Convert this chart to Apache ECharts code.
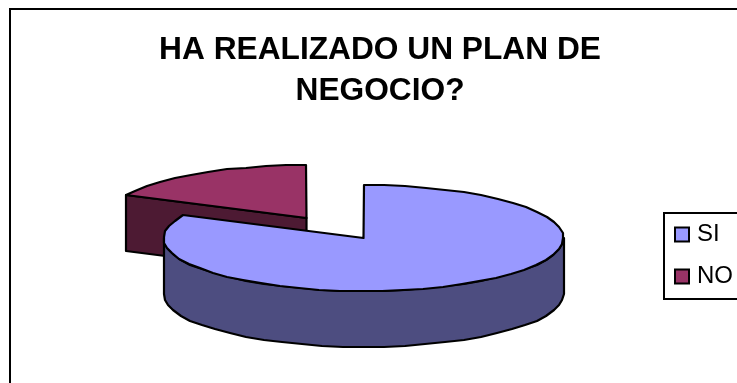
<!DOCTYPE html>
<html>
<head>
<meta charset="utf-8">
<style>html,body{margin:0;padding:0;background:#fff}#chart{width:737px;height:383px}</style>
<script src="https://cdn.jsdelivr.net/npm/echarts@6/dist/echarts.min.js"></script>
</head>
<body>
<div id="chart"></div>
<script>
// Survey answers shown as a tilted, extruded pie
const titleText = 'HA REALIZADO UN PLAN DE\nNEGOCIO?';
const categories = ['SI', 'NO'];
const answerValues = [82, 18];
const topColors = ['#9999FF', '#993366'];
const sideColors = ['#4D4D80', '#4D1A33'];

// Projection of the disc onto the page
const DISC = { cx: 363.5, cy: 238, rx: 200, ry: 53, depth: 56 };
const OFFSETS = [[0, 0], [-57, -20]];   // the NO wedge is pulled out of the disc
const STEP = 6;                         // degrees per outline segment

const total = answerValues.reduce((a, b) => a + b, 0);

function rimPoint(deg, ox, oy, dz) {
  const t = deg * Math.PI / 180;
  return [
    Math.round(DISC.cx + ox + DISC.rx * Math.sin(t)),
    Math.round(DISC.cy + oy - DISC.ry * Math.cos(t) + dz)
  ];
}
function arc(from, to, ox, oy, dz) {
  const pts = [];
  const n = Math.max(1, Math.round((to - from) / STEP));
  for (let i = 0; i <= n; i++) pts.push(rimPoint(from + (to - from) * i / n, ox, oy, dz));
  return pts;
}
function poly(points, fill) {
  return {
    type: 'polygon',
    shape: { points },
    style: { fill, stroke: '#000', lineWidth: 2.2, lineJoin: 'round' }
  };
}

function wedgeRenderer(index) {
  return function (params, api) {
    const before = answerValues.slice(0, index).reduce((a, b) => a + b, 0);
    const start = before / total * 360;
    const end = start + api.value(0) / total * 360;
    const [ox, oy] = OFFSETS[index];
    const apex = [DISC.cx + ox, DISC.cy + oy];
    const children = [];

    // Outer wall: only the part of the rim facing the viewer (90..270 degrees)
    const wallFrom = Math.max(start, 90), wallTo = Math.min(end, 270);
    if (wallFrom < wallTo) {
      const upper = arc(wallFrom, wallTo, ox, oy, 0);
      const lower = arc(wallFrom, wallTo, ox, oy, DISC.depth).reverse();
      children.push(poly(upper.concat(lower), sideColors[index]));
    }
    // Cut face running from the apex out to the rim at the start of the wedge
    if (start > 180) {
      const rim = rimPoint(start, ox, oy, 0);
      children.push(poly([
        apex, rim,
        [rim[0], rim[1] + DISC.depth],
        [apex[0], apex[1] + DISC.depth]
      ], sideColors[index]));
    }
    // Top surface
    children.push(poly([apex].concat(arc(start, end, ox, oy, 0)), topColors[index]));
    return { type: 'group', children };
  };
}

const chart = echarts.init(document.getElementById('chart'), null, { renderer: 'canvas' });
// The later series paints above the earlier one, so NO goes first
const order = [1, 0];
chart.setOption({
  animation: false,
  backgroundColor: '#fff',
  title: {
    text: titleText,
    left: 375,
    top: 25,
    textAlign: 'center',
    textStyle: {
      fontFamily: 'Liberation Sans',
      fontWeight: 'bold',
      fontSize: 31.7,
      lineHeight: 41,
      color: '#000'
    }
  },
  legend: {
    data: categories,
    orient: 'vertical',
    icon: 'rect',
    left: 664,
    top: 213,
    padding: [8, 14, 9, 10],
    itemWidth: 14,
    itemHeight: 14,
    itemGap: 15,
    borderColor: '#000',
    borderWidth: 2,
    textStyle: { fontFamily: 'Liberation Sans', fontSize: 24, lineHeight: 27, color: '#000', padding: [0, 0, 0, 3] }
  },
  graphic: [{
    type: 'rect',
    silent: true,
    z: -1,
    shape: { x: 10, y: 9, width: 900, height: 600 },
    style: { fill: 'none', stroke: '#000', lineWidth: 2 }
  }],
  series: order.map(i => ({
    type: 'custom',
    name: categories[i],
    coordinateSystem: 'none',
    itemStyle: { color: topColors[i], borderColor: '#000', borderWidth: 2 },
    renderItem: wedgeRenderer(i),
    data: [[answerValues[i]]]
  }))
});
</script>
</body>
</html>
